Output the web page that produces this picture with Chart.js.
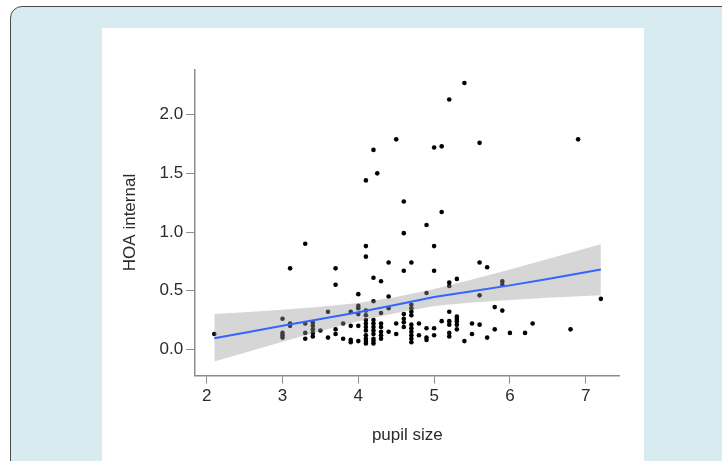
<!DOCTYPE html>
<html><head><meta charset="utf-8">
<script src="https://cdn.jsdelivr.net/npm/chart.js@4.4.1/dist/chart.umd.min.js"></script>
<style>
html,body{margin:0;padding:0;background:#fff;width:722px;height:461px;overflow:hidden;}
#card{position:absolute;left:10px;top:6px;width:760px;height:520px;background:#d8ebf0;border:1px solid #4a4a4a;border-radius:12px;}
#panel{position:absolute;left:102px;top:28px;width:542px;height:433px;background:#fff;}
#c{position:absolute;left:102px;top:28px;}
</style></head><body>
<div id="card"></div><div id="panel"></div>
<canvas id="c" width="542" height="433"></canvas>
<script>
// scatter data: pupil size vs HOA internal
const pupilSize = [
 2.1,
 3.0,3.0,3.0,3.0,
 3.1,3.1,3.1,
 3.3,3.3,3.3,3.3,
 3.4,3.4,3.4,3.4,3.4,
 3.5,
 3.6,3.6,
 3.7,3.7,3.7,3.7,
 3.8,3.8,
 3.9,3.9,3.9,3.9,
 4.0,4.0,4.0,4.0,4.0,4.0,
 4.1,4.1,4.1,4.1,4.1,4.1,4.1,4.1,4.1,4.1,4.1,4.1,4.1,
 4.2,4.2,4.2,4.2,4.2,4.2,4.2,4.2,4.2,4.2,4.2,
 4.25,
 4.3,4.3,4.3,4.3,4.3,4.3,4.3,
 4.4,4.4,4.4,4.4,
 4.5,4.5,4.5,
 4.6,4.6,4.6,4.6,4.6,4.6,4.6,
 4.7,4.7,4.7,4.7,4.7,4.7,4.7,4.7,4.7,4.7,4.7,
 4.8,4.8,
 4.9,4.9,4.9,4.9,4.9,
 5.0,5.0,5.0,5.0,5.0,
 5.1,5.1,5.1,
 5.2,5.2,5.2,5.2,5.2,5.2,5.2,5.2,
 5.3,5.3,5.3,5.3,5.3,5.3,
 5.4,5.4,
 5.5,5.5,
 5.6,5.6,5.6,5.6,
 5.7,5.7,
 5.8,5.8,
 5.9,5.9,5.9,
 6.0,
 6.2,
 6.3,
 6.8,
 6.9,
 7.2
];
const hoaInternal = [
 0.13,
 0.26,0.14,0.12,0.10,
 0.69,0.22,0.20,
 0.90,0.22,0.14,0.09,
 0.23,0.20,0.17,0.14,0.11,
 0.16,
 0.32,0.10,
 0.69,0.55,0.17,0.13,
 0.22,0.09,
 0.32,0.20,0.08,0.06,
 0.47,0.37,0.35,0.30,0.20,0.07,
 1.44,0.88,0.79,0.33,0.29,0.25,0.22,0.19,0.16,0.12,0.09,0.07,0.05,
 1.70,0.61,0.41,0.25,0.22,0.19,0.16,0.13,0.09,0.07,0.05,
 1.50,
 0.58,0.31,0.22,0.19,0.15,0.12,0.09,
 0.74,0.45,0.35,0.15,
 1.79,0.22,0.13,
 1.26,0.99,0.67,0.30,0.26,0.23,0.19,
 0.74,0.38,0.35,0.32,0.29,0.21,0.18,0.15,0.12,0.09,0.06,
 0.22,0.12,
 1.06,0.48,0.18,0.10,0.08,
 1.72,0.88,0.67,0.18,0.12,
 1.73,1.17,0.24,
 2.13,0.57,0.54,0.32,0.24,0.21,0.14,0.11,
 0.60,0.28,0.26,0.24,0.21,0.17,
 2.27,0.07,
 0.22,0.13,
 1.76,0.74,0.46,0.21,
 0.70,0.10,
 0.36,0.17,
 0.58,0.55,0.33,
 0.14,
 0.14,
 0.22,
 0.17,
 1.79,
 0.43
];
// fitted line and confidence band
const fitX      = [2.1, 2.5, 3.0, 3.5, 4.0, 4.5, 5.0, 5.5, 6.0, 6.5, 7.2];
const fitY      = [0.095, 0.142, 0.200, 0.258, 0.316, 0.380, 0.445, 0.495, 0.545, 0.600, 0.680];
const bandUpper = [0.300, 0.315, 0.337, 0.362, 0.395, 0.445, 0.515, 0.595, 0.680, 0.770, 0.895];
const bandLower = [-0.105, -0.030, 0.065, 0.155, 0.240, 0.310, 0.370, 0.400, 0.420, 0.440, 0.460];
// tick labels
const xTicks = [2, 3, 4, 5, 6, 7];
const yTicks = [0, 0.5, 1.0, 1.5, 2.0];

const pts = (xs, ys) => xs.map((x, i) => ({x: x, y: ys[i]}));
const FONT = "'Liberation Sans', Arial, sans-serif";
Chart.defaults.font.family = FONT;
const axisCol = '#8c8c8c';
const textCol = '#2b2b2b';

new Chart(document.getElementById('c'), {
  type: 'scatter',
  data: {
    datasets: [
      { type: 'line', data: pts(fitX, fitY), borderColor: '#3366ff', borderWidth: 2,
        pointRadius: 0, fill: false, tension: 0 },
      { type: 'line', data: pts(fitX, bandUpper), borderWidth: 0, borderColor: 'rgba(0,0,0,0)',
        pointRadius: 0, fill: '+1', backgroundColor: 'rgba(153,153,153,0.4)', tension: 0 },
      { type: 'line', data: pts(fitX, bandLower), borderWidth: 0, borderColor: 'rgba(0,0,0,0)',
        pointRadius: 0, fill: false, tension: 0 },
      { data: pts(pupilSize, hoaInternal), pointRadius: 2.3, pointBackgroundColor: '#000',
        pointBorderWidth: 0, pointBorderColor: '#000' }
    ]
  },
  options: {
    responsive: false, animation: false, devicePixelRatio: 1,
    layout: { padding: { left: 0, top: 41.3, right: 24.5, bottom: 0 } },
    plugins: { legend: { display: false }, tooltip: { enabled: false } },
    scales: {
      x: {
        type: 'linear', min: 1.848, max: 7.446,
        afterBuildTicks: s => { s.ticks = xTicks.map(v => ({value: v})); },
        afterFit: s => { s.height = 85.3; },
        grid: { drawOnChartArea: false, drawTicks: true, tickLength: 8, color: axisCol, lineWidth: 1 },
        border: { display: true, color: axisCol, width: 1.5 },
        ticks: { color: textCol, font: { size: 17 }, padding: 2, maxRotation: 0, autoSkip: false,
                 callback: v => String(v) },
        title: { display: true, text: 'pupil size', color: textCol, font: { size: 17 },
                 padding: { top: 0, bottom: 15 } }
      },
      y: {
        type: 'linear', min: -0.225, max: 2.387,
        afterBuildTicks: s => { s.ticks = yTicks.map(v => ({value: v})); },
        afterFit: s => { s.width = 93.2; },
        grid: { drawOnChartArea: false, drawTicks: true, tickLength: 9, color: axisCol, lineWidth: 1 },
        border: { display: true, color: axisCol, width: 1.5 },
        ticks: { color: textCol, font: { size: 17 }, padding: 3, autoSkip: false,
                 callback: v => Number(v).toFixed(1) },
        title: { display: true, text: 'HOA internal', color: textCol, font: { size: 17 },
                 padding: { top: 17.8, bottom: 0 } }
      }
    }
  }
});
</script>
</body></html>
